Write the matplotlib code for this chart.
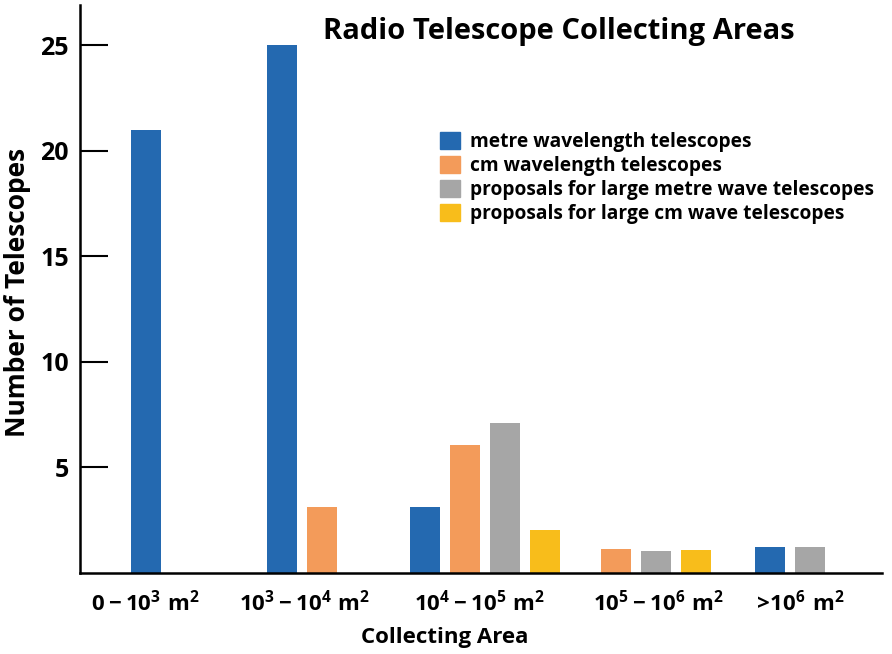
import matplotlib.pyplot as plt
from matplotlib.patches import Patch

plt.rcParams['font.family'] = ['Open Sans', 'DejaVu Sans']
plt.rcParams['font.weight'] = 'bold'
plt.rcParams['mathtext.fontset'] = 'custom'
plt.rcParams['mathtext.rm'] = 'Open Sans:bold'
plt.rcParams['mathtext.it'] = 'Open Sans:bold'
plt.rcParams['mathtext.bf'] = 'Open Sans:bold'

# data
categories = [r'$0 - 10^3\ \mathrm{m}^2$', r'$10^3 - 10^4\ \mathrm{m}^2$',
              r'$10^4 - 10^5\ \mathrm{m}^2$', r'$10^5 - 10^6\ \mathrm{m}^2$',
              r'$>\!10^6\ \mathrm{m}^2$']
series = ['metre wavelength telescopes', 'cm wavelength telescopes',
          'proposals for large metre wave telescopes',
          'proposals for large cm wave telescopes']
metre = [21, 25, 3.14, 0, 1.22]
cm = [0, 3.14, 6.07, 1.14, 0]
metre_prop = [0, 0, 7.09, 1.06, 1.22]
cm_prop = [0, 0, 2.02, 1.1, 0]
colors = ['#2469b0', '#f39b5a', '#a6a6a6', '#f8bd1b']

# layout (x in pixels from the y axis)
group_centers = [66, 222, 405, 576, 710]
label_pos = [65, 225, 400, 579, 718]
pitch = 40
width = 30

fig = plt.figure(figsize=(8.92, 6.54), dpi=100)
ax = fig.add_axes([80 / 892, 81 / 654, 802 / 892, 568 / 654])

all_vals = [metre, cm, metre_prop, cm_prop]
for g in range(len(categories)):
    present = [s for s in range(len(series)) if all_vals[s][g] > 0]
    n = len(present)
    for k, s in enumerate(present):
        x = group_centers[g] + (k - (n - 1) / 2) * pitch
        ax.bar(x, all_vals[s][g], width=width, color=colors[s])

ax.set_xlim(0, 802)
ax.set_ylim(0, 26.9)
ax.set_yticks([5, 10, 15, 20, 25])
ax.tick_params(axis='y', direction='in', length=20, width=1.5, labelsize=18, pad=8)
ax.set_xticks(label_pos)
ax.set_xticklabels(categories, fontsize=16)
ax.tick_params(axis='x', length=0, pad=12)
for sp in ['top', 'right']:
    ax.spines[sp].set_visible(False)
for sp in ['left', 'bottom']:
    ax.spines[sp].set_linewidth(1.8)

ax.set_xlabel('Collecting Area', fontsize=16, fontweight='bold')
ax.xaxis.set_label_coords((445 - 80) / 802, -(638 - 573) / 568)
ax.xaxis.label.set_va('center')
ax.set_ylabel('Number of Telescopes', fontsize=19, fontweight='bold')
ax.yaxis.set_label_coords(-(80 - 18) / 802, (573 - 292) / 568)
ax.yaxis.label.set_va('center')
fig.text(559 / 892, 1 - 31 / 654, 'Radio Telescope Collecting Areas',
         fontsize=21, fontweight='bold', ha='center', va='center')

handles = [Patch(color=c) for c in colors]
ax.legend(handles, series, loc='upper left', bbox_to_anchor=(360 / 802, 0.777),
          frameon=False, fontsize=13.8, handlelength=1.05, handleheight=1.0,
          handletextpad=0.5, labelspacing=0.2, borderpad=0, borderaxespad=0)

fig.savefig('out.png', dpi=100)
